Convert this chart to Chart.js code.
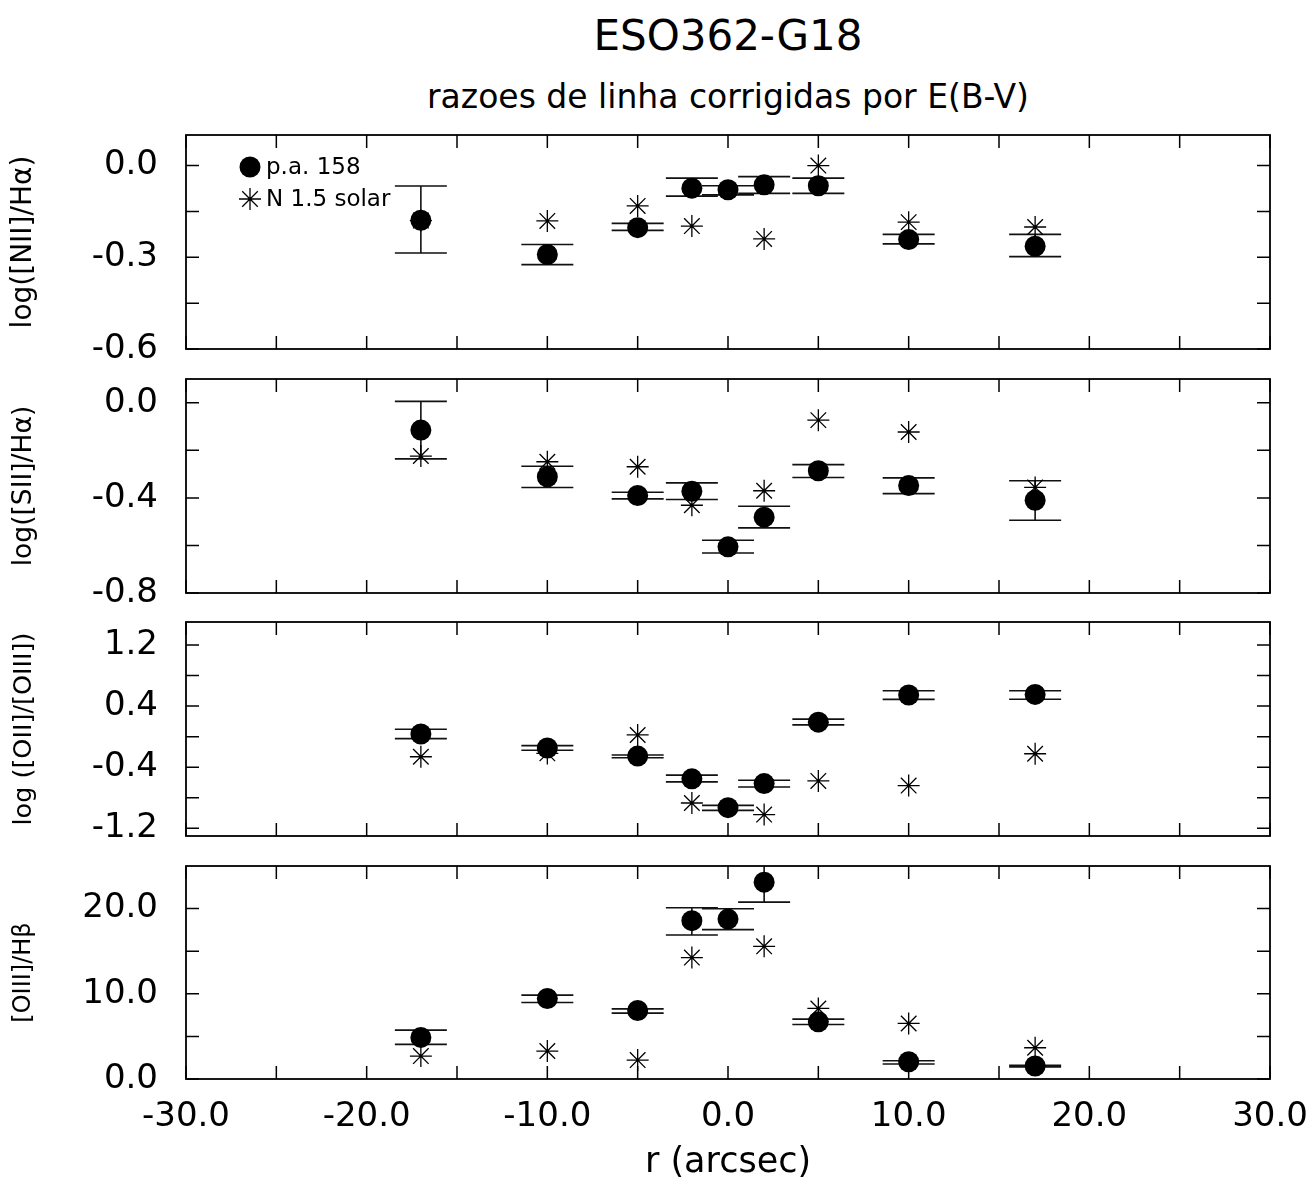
<!DOCTYPE html>
<html>
<head>
<meta charset="utf-8">
<script src="https://cdn.jsdelivr.net/npm/chart.js@4.4.1/dist/chart.umd.min.js"></script>
<style>
html,body{margin:0;padding:0;background:#fff;}
body{width:1313px;height:1189px;overflow:hidden;position:relative;font-family:"DejaVu Sans",sans-serif;color:#000;}
#title{position:absolute;left:186px;width:1084px;top:15px;text-align:center;font-size:42px;line-height:42px;white-space:nowrap;}
#subtitle{position:absolute;left:186px;width:1084px;top:80px;text-align:center;font-size:33px;line-height:33px;white-space:nowrap;}
.panel{position:absolute;left:0;width:1313px;}
</style>
</head>
<body>
<div id="title">ESO362-G18</div>
<div id="subtitle">razoes de linha corrigidas por E(B-V)</div>
<script>
// ---------------- data ----------------
const X_TICKS = [-30, -25, -20, -15, -10, -5, 0, 5, 10, 15, 20, 25, 30];
const X_LABELS = [-30, -20, -10, 0, 10, 20, 30];

const rObs = [-17, -10, -5, -2, 0, 2, 5, 10, 17];
const rModel = [-17, -10, -5, -2, 2, 5, 10, 17];

// log([NII]/Halpha)
const nii   = [-0.179, -0.291, -0.203, -0.074, -0.079, -0.063, -0.066, -0.242, -0.264];
const niiLo = [-0.286, -0.324, -0.212, -0.100, -0.096, -0.091, -0.091, -0.256, -0.298];
const niiHi = [-0.067, -0.258, -0.189, -0.041, -0.066, -0.036, -0.041, -0.225, -0.225];
const niiModel = [-0.180, -0.181, -0.132, -0.198, -0.240, 0.000, -0.185, -0.201];
const niiTicks = [-0.6, -0.45, -0.3, -0.15, 0.0];
const niiLabels = [-0.6, -0.3, 0.0];

// log([SII]/Halpha)
const sii   = [-0.115, -0.311, -0.390, -0.372, -0.606, -0.481, -0.286, -0.348, -0.410];
const siiLo = [-0.236, -0.356, -0.404, -0.407, -0.632, -0.526, -0.314, -0.382, -0.494];
const siiHi = [0.006, -0.267, -0.376, -0.337, -0.578, -0.435, -0.260, -0.316, -0.328];
const siiModel = [-0.224, -0.248, -0.269, -0.431, -0.370, -0.073, -0.123, -0.356];
const siiTicks = [-0.8, -0.6, -0.4, -0.2, 0.0];
const siiLabels = [-0.8, -0.4, 0.0];

// log([OII]/[OIII])
const oo   = [0.035, -0.149, -0.254, -0.552, -0.929, -0.614, 0.189, 0.545, 0.553];
const ooLo = [-0.026, -0.179, -0.276, -0.592, -0.965, -0.658, 0.154, 0.487, 0.490];
const ooHi = [0.097, -0.118, -0.241, -0.504, -0.899, -0.570, 0.229, 0.601, 0.600];
const ooModel = [-0.263, -0.219, 0.022, -0.868, -1.020, -0.579, -0.640, -0.224];
const ooTicks = [-1.2, -0.8, -0.4, 0.0, 0.4, 0.8, 1.2];
const ooLabels = [-1.2, -0.4, 0.4, 1.2];

// [OIII]/Hbeta
const o3   = [4.88, 9.45, 8.04, 18.58, 18.77, 23.10, 6.71, 2.03, 1.52];
const o3Lo = [4.06, 8.98, 7.73, 16.90, 17.53, 20.76, 6.40, 1.76, 1.40];
const o3Hi = [5.74, 9.84, 8.23, 20.10, 19.99, 25.44, 7.03, 2.15, 1.60];
const o3Model = [2.69, 3.28, 2.22, 14.25, 15.57, 8.28, 6.52, 3.67];
const o3Ticks = [0, 5, 10, 15, 20];
const o3Labels = [0, 10, 20];

const seriesNames = ['p.a. 158', 'N 1.5 solar'];

// ---------------- layout / style ----------------
const FONT = '"DejaVu Sans", sans-serif';
const PAD = 30;
const CAP = 26;       // error-bar cap half width (px)
const TICK_LEN = 13;  // inward tick length (px)
const W = 1313, H = 1189;

const panels = [
  {top:135, bottom:349, obs:nii, lo:niiLo, hi:niiHi, model:niiModel, yMin:-0.6, yMax:0.1,
   ticks:niiTicks, labels:niiLabels, title:'log([NII]/Hα)', titleSize:28, legend:true},
  {top:379, bottom:593, obs:sii, lo:siiLo, hi:siiHi, model:siiModel, yMin:-0.8, yMax:0.1,
   ticks:siiTicks, labels:siiLabels, title:'log([SII]/Hα)', titleSize:26.5},
  {top:622, bottom:836, obs:oo, lo:ooLo, hi:ooHi, model:ooModel, yMin:-1.3, yMax:1.5,
   ticks:ooTicks, labels:ooLabels, title:'log ([OII]/[OIII])', titleSize:25.5},
  {top:866, bottom:1079, obs:o3, lo:o3Lo, hi:o3Hi, model:o3Model, yMin:0, yMax:25,
   ticks:o3Ticks, labels:o3Labels, title:'[OIII]/Hβ', titleSize:24}
];

// ---------------- plugins ----------------
const errorBars = {
  id: 'errorBars',
  beforeDatasetsDraw(chart) {
    const ds = chart.data.datasets[0];
    const {ctx, chartArea: a, scales: {x, y}} = chart;
    ctx.save();
    ctx.beginPath();
    ctx.rect(a.left, a.top, a.right - a.left, a.bottom - a.top);
    ctx.clip();
    ctx.strokeStyle = '#111';
    ctx.lineWidth = 1.6;
    ds.data.forEach((pt, i) => {
      const px = x.getPixelForValue(pt.x);
      const y1 = y.getPixelForValue(ds.errLo[i]);
      const y2 = y.getPixelForValue(ds.errHi[i]);
      ctx.beginPath();
      ctx.moveTo(px, y1); ctx.lineTo(px, y2);
      ctx.moveTo(px - CAP, y1); ctx.lineTo(px + CAP, y1);
      ctx.moveTo(px - CAP, y2); ctx.lineTo(px + CAP, y2);
      ctx.stroke();
    });
    ctx.restore();
  }
};

const frameTicks = {
  id: 'frameTicks',
  afterDraw(chart, args, opts) {
    const {ctx, chartArea: a, scales: {x, y}} = chart;
    ctx.save();
    ctx.strokeStyle = '#000';
    ctx.lineWidth = 1.5;
    ctx.beginPath();
    X_TICKS.forEach(v => {
      const px = x.getPixelForValue(v);
      ctx.moveTo(px, a.top); ctx.lineTo(px, a.top + TICK_LEN);
      ctx.moveTo(px, a.bottom); ctx.lineTo(px, a.bottom - TICK_LEN);
    });
    opts.yTicks.forEach(v => {
      const py = y.getPixelForValue(v);
      ctx.moveTo(a.left, py); ctx.lineTo(a.left + TICK_LEN, py);
      ctx.moveTo(a.right, py); ctx.lineTo(a.right - TICK_LEN, py);
    });
    ctx.stroke();
    ctx.lineWidth = 1.8;
    ctx.strokeRect(a.left, a.top, a.right - a.left, a.bottom - a.top);
    ctx.restore();
  }
};

const insideLegend = {
  id: 'insideLegend',
  afterDraw(chart) {
    const {ctx, chartArea: a} = chart;
    const ds = chart.data.datasets;
    const mx = a.left + 64;
    const y1 = a.top + 32, y2 = a.top + 64;
    ctx.save();
    ctx.fillStyle = '#000';
    ctx.strokeStyle = '#000';
    ctx.beginPath();
    ctx.arc(mx, y1, 10.5, 0, Math.PI * 2);
    ctx.fill();
    ctx.lineWidth = 1.3;
    ctx.beginPath();
    for (let k = 0; k < 4; k++) {
      const ang = k * Math.PI / 4;
      const dx = Math.cos(ang) * 11, dy = Math.sin(ang) * 11;
      ctx.moveTo(mx - dx, y2 - dy); ctx.lineTo(mx + dx, y2 + dy);
    }
    ctx.stroke();
    ctx.font = '23px ' + FONT;
    ctx.textBaseline = 'middle';
    ctx.textAlign = 'left';
    ctx.fillText(ds[0].label, a.left + 80, y1 + 1);
    ctx.fillText(ds[1].label, a.left + 80, y2 + 1);
    ctx.restore();
  }
};

function fmt(v) { return (Math.abs(v) < 1e-9 ? 0 : v).toFixed(1); }
function inList(list, v) { return list.some(l => Math.abs(l - v) < 1e-9); }

// ---------------- charts ----------------
panels.forEach((p, idx) => {
  const isLast = idx === panels.length - 1;
  const canvasTop = p.top - PAD;
  const h = isLast ? (H - canvasTop) : (p.bottom - p.top + 2 * PAD);
  const xAxisH = isLast ? (H - p.bottom) : 0;
  const div = document.createElement('div');
  div.className = 'panel';
  div.style.top = canvasTop + 'px';
  div.style.height = h + 'px';
  const cv = document.createElement('canvas');
  div.appendChild(cv);
  document.body.appendChild(div);

  new Chart(cv, {
    type: 'scatter',
    data: {
      datasets: [
        {
          label: seriesNames[0],
          data: rObs.map((x, i) => ({x: x, y: p.obs[i]})),
          errLo: p.lo, errHi: p.hi,
          pointStyle: 'circle', pointRadius: 10.5,
          backgroundColor: '#000', borderColor: '#000', borderWidth: 0
        },
        {
          label: seriesNames[1],
          data: rModel.map((x, i) => ({x: x, y: p.model[i]})),
          pointStyle: 'star', pointRadius: 11,
          backgroundColor: '#000', borderColor: '#000', borderWidth: 1.3
        }
      ]
    },
    options: {
      responsive: true,
      maintainAspectRatio: false,
      animation: false,
      events: [],
      layout: {padding: {left: 0, right: W - 1270, top: PAD, bottom: isLast ? 0 : PAD}},
      scales: {
        x: {
          type: 'linear', min: -30, max: 30, display: isLast, position: 'bottom',
          grid: {display: false, drawTicks: false},
          border: {display: false},
          afterBuildTicks: s => { s.ticks = X_TICKS.map(v => ({value: v})); },
          afterFit: s => { s.height = xAxisH; s.paddingLeft = 0; s.paddingRight = 0; },
          ticks: {
            autoSkip: false, maxRotation: 0, minRotation: 0, padding: 18, color: '#000',
            font: {size: 34, family: FONT},
            callback: v => inList(X_LABELS, v) ? fmt(v) : ''
          },
          title: {
            display: isLast, text: 'r (arcsec)', color: '#000',
            font: {size: 35, family: FONT, lineHeight: 1.2},
            padding: {top: 0, bottom: 5}
          }
        },
        y: {
          type: 'linear', min: p.yMin, max: p.yMax,
          grid: {display: false, drawTicks: false},
          border: {display: false},
          afterBuildTicks: s => { s.ticks = p.ticks.map(v => ({value: v})); },
          afterFit: s => { s.width = 186; s.paddingTop = 0; s.paddingBottom = 0; },
          ticks: {
            autoSkip: false, padding: 28, color: '#000',
            font: {size: 34, family: FONT},
            callback: v => inList(p.labels, v) ? fmt(v) : ''
          },
          title: {
            display: true, text: p.title, color: '#000',
            font: {size: p.titleSize, family: FONT, lineHeight: 1.2},
            padding: {top: 24 - 0.6 * p.titleSize, bottom: 0}
          }
        }
      },
      plugins: {
        legend: {display: false},
        tooltip: {enabled: false},
        frameTicks: {yTicks: p.ticks}
      }
    },
    plugins: [errorBars, frameTicks].concat(p.legend ? [insideLegend] : [])
  });
});
</script>
</body>
</html>
